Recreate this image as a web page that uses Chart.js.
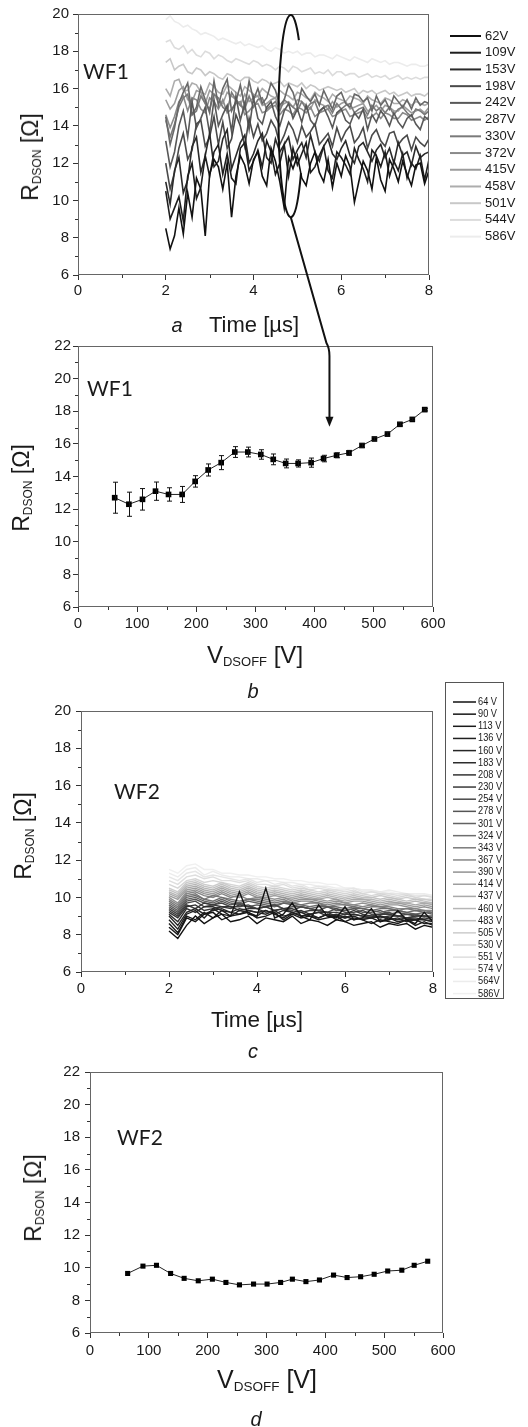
<!DOCTYPE html>
<html>
<head>
<meta charset="utf-8">
<script src="https://cdn.jsdelivr.net/npm/chart.js@4.4.1/dist/chart.umd.min.js"></script>
<style>
  body { margin: 0; background: #fff; }
  #page { position: relative; width: 528px; height: 1427px; overflow: hidden;
          font-family: 'Liberation Sans', Arial, sans-serif; color: #1a1a1a; }
  #page canvas { position: absolute; left: 0; }
  .t { position: absolute; white-space: nowrap; line-height: 1; transform: translate(-50%, -50%); }
  .rot { transform: translate(-50%, -50%) rotate(-90deg); }
  .big { font-size: 23px; }
  .sub { font-size: 12px; vertical-align: -3px; }
  .wf { font-family: Lato, 'Open Sans', sans-serif; font-size: 21px; }
  .let { font-size: 20px; font-style: italic; }
</style>
</head>
<body>
<div id="page">
  <canvas id="ca" width="528" height="340" style="top:0px"></canvas>
  <canvas id="cb" width="528" height="350" style="top:325px"></canvas>
  <canvas id="cc" width="528" height="385" style="top:675px"></canvas>
  <canvas id="cd" width="528" height="377" style="top:1050px"></canvas>
  <canvas id="ov" width="528" height="1427" style="top:0px"></canvas>

  <div class="t wf" style="left:106px;top:70px">WF1</div>
  <div class="t big rot" style="left:31px;top:157px">R<span class="sub">DSON</span> [Ω]</div>
  <div class="t let" style="left:177px;top:325px">a</div>
  <div class="t" style="left:254px;top:325px;font-size:22px">Time [µs]</div>

  <div class="t wf" style="left:110px;top:387px">WF1</div>
  <div class="t big rot" style="left:22px;top:488px">R<span class="sub">DSON</span> [Ω]</div>
  <div class="t" style="left:255px;top:655px;font-size:24px">V<span class="sub" style="font-size:13px">DSOFF</span> [V]</div>
  <div class="t let" style="left:253px;top:691px">b</div>

  <div class="t wf" style="left:137px;top:790px">WF2</div>
  <div class="t big rot" style="left:24px;top:836px">R<span class="sub">DSON</span> [Ω]</div>
  <div class="t" style="left:257px;top:1020px;font-size:22.5px">Time [µs]</div>
  <div class="t let" style="left:253px;top:1051px">c</div>

  <div class="t wf" style="left:140px;top:1136px">WF2</div>
  <div class="t big rot" style="left:34px;top:1198px">R<span class="sub">DSON</span> [Ω]</div>
  <div class="t" style="left:267px;top:1380px;font-size:25px">V<span class="sub" style="font-size:13.5px">DSOFF</span> [V]</div>
  <div class="t let" style="left:256px;top:1419px">d</div>
</div>
<script>
// ---- panel a : RDSON(t), WF1 ----
const TIME_A = [2,2.1,2.2,2.3,2.4,2.5,2.6,2.7,2.8,2.9,
  3,3.1,3.2,3.3,3.4,3.5,3.6,3.7,3.8,3.9,
  4,4.1,4.2,4.3,4.4,4.5,4.6,4.7,4.8,4.9,
  5,5.1,5.2,5.3,5.4,5.5,5.6,5.7,5.8,5.9,
  6,6.1,6.2,6.3,6.4,6.5,6.6,6.7,6.8,6.9,
  7,7.1,7.2,7.3,7.4,7.5,7.6,7.7,7.8,7.9,8];
const VOLT_A = ['62V','109V','153V','198V','242V','287V','330V','372V','415V','458V','501V','544V','586V'];
const RA_62 = [8.5,7.4,8.1,9.6,8.2,10.4,9.1,11.2,10.6,8.1, 11.4,12.2,11.8,10.6,12.0,9.1,11.3,12.4,11.9,10.9,
  12.2,12.6,11.3,10.8,12.8,12.1,11.0,9.6,12.3,11.7, 12.4,11.2,10.8,12.0,12.6,11.5,11.0,12.2,10.7,12.0,
  11.3,12.4,11.8,9.9,11.0,12.1,11.6,10.6,12.3,11.1, 10.5,12.2,11.7,11.0,12.1,11.4,10.8,11.9,12.0,10.9, 11.6];
const RA_109 = [10.5,9.0,9.6,10.2,8.9,11.3,12.0,10.1,10.7,12.4, 11.3,12.6,13.0,11.4,12.5,11.2,10.9,12.8,13.1,11.6,
  12.1,12.7,11.8,13.2,12.6,11.4,12.0,13.0,11.3,12.8, 11.9,12.5,13.1,11.5,11.8,12.4,12.9,11.6,11.2,12.6,
  12.3,11.9,11.4,12.8,12.2,11.7,11.0,12.7,12.4,11.8, 12.6,11.3,12.1,11.6,12.5,11.2,12.0,11.7,12.4,11.1, 12.2];
const RA_153 = [11.0,9.8,11.6,12.3,10.4,11.1,12.9,13.4,11.5,12.4, 13.6,11.8,12.1,13.3,13.8,11.7,12.4,13.1,13.5,12.0,
  12.5,13.2,13.6,12.3,12.0,13.3,12.6,13.0,13.4,12.2, 12.7,13.1,12.3,13.5,12.6,12.1,12.9,13.3,12.5,12.2,
  12.8,13.2,12.4,12.0,12.9,13.1,12.6,12.1,12.7,13.0, 12.3,12.8,12.0,13.1,12.4,12.6,11.9,12.9,12.3,12.5, 12.6];
const RA_198 = [12.0,10.6,11.5,12.8,13.6,12.2,12.7,14.1,14.3,12.9, 13.4,14.5,13.0,14.2,12.8,13.3,14.6,14.0,12.9,14.4,
  13.4,14.1,13.2,13.6,14.3,13.9,13.0,13.5,14.2,13.8, 13.1,14.0,13.4,13.7,14.1,13.0,13.3,13.6,12.9,13.9,
  13.2,13.7,14.0,13.1,13.4,13.9,12.8,13.5,13.8,13.2, 12.9,13.6,13.7,13.0,13.3,13.5,12.7,13.4,13.1,12.9, 13.3];
const RA_242 = [13.2,11.8,12.6,14.0,14.8,13.4,15.3,13.9,14.4,15.0, 13.6,15.4,14.0,14.6,15.1,13.7,15.6,14.3,15.2,13.8,
  15.5,14.4,14.1,15.0,15.3,14.5,14.0,14.8,15.2,14.4, 14.9,14.2,15.1,14.3,14.0,14.8,15.0,14.5,13.9,14.7,
  14.9,14.3,14.1,14.7,14.4,14.9,13.8,14.6,14.2,14.8, 14.5,14.0,14.7,14.2,13.9,14.4,14.6,14.1,13.8,14.5, 14.3];
const RA_287 = [14.5,13.0,13.9,15.2,15.8,16.3,14.6,15.0,16.1,15.4, 14.7,16.4,15.1,16.0,16.5,14.8,15.3,16.2,15.0,16.4,
  15.4,16.0,15.2,15.5,16.3,15.9,15.1,15.4,16.2,15.8, 15.0,16.0,15.6,15.3,15.7,15.1,15.9,15.4,14.9,15.6,
  15.8,15.2,15.0,15.7,15.6,15.3,15.5,14.8,15.6,15.1, 15.4,14.9,15.6,15.3,15.0,15.4,14.9,15.5,15.1,15.3, 15.2];
const RA_330 = [14.3,13.4,14.1,15.0,15.5,15.7,14.6,14.8,15.6,15.2, 14.9,15.7,15.5,15.0,14.8,15.8,15.4,15.1,14.9,15.6,
  15.0,15.4,15.5,14.9,15.1,15.3,14.8,15.4,15.2,15.0, 14.8,15.3,14.9,15.2,15.3,14.7,15.0,15.1,14.7,15.2,
  14.9,15.1,15.2,14.7,14.9,15.0,14.6,15.1,14.8,15.0, 14.7,15.0,14.6,14.9,15.0,14.7,14.5,14.9,14.8,14.6, 14.8];
const RA_372 = [14.6,13.9,14.5,15.3,15.6,14.8,15.5,15.4,14.9,14.7, 15.5,15.3,14.9,15.4,14.7,14.9,15.2,15.3,14.6,14.8,
  15.1,15.2,14.7,14.8,15.0,15.1,14.6,14.9,14.8,14.6, 15.0,14.9,14.7,15.0,14.5,14.7,14.8,14.9,14.5,14.6,
  14.8,14.9,14.5,14.6,14.7,14.8,14.4,14.5,14.7,14.4, 14.7,14.6,14.4,14.4,14.7,14.6,14.3,14.4,14.5,14.3, 14.5];
const RA_415 = [15.4,14.9,15.2,15.9,16.1,15.4,15.3,15.9,15.8,15.2, 15.9,15.7,15.3,15.2,15.8,15.6,15.4,15.1,15.7,15.3,
  15.5,15.6,15.1,15.2,15.4,15.5,15.0,15.2,15.3,15.0, 15.4,15.3,15.1,14.9,15.4,15.2,15.1,14.9,15.3,15.0,
  15.2,15.3,14.9,15.0,15.1,15.2,14.8,14.9,15.1,14.8, 15.1,15.0,14.8,14.8,15.1,14.9,14.7,14.8,14.9,14.7, 15.0];
const RA_458 = [16.0,15.6,16.4,16.5,15.9,15.9,16.3,16.2,15.8,15.7, 16.3,16.1,15.8,15.7,16.2,16.0,15.8,15.6,16.1,15.9,
  15.7,15.6,16.0,15.8,15.6,15.5,15.9,15.7,15.6,15.4, 15.8,15.7,15.5,15.4,15.8,15.6,15.5,15.3,15.7,15.5,
  15.4,15.3,15.6,15.5,15.4,15.2,15.6,15.4,15.3,15.2, 15.5,15.4,15.2,15.2,15.4,15.3,15.1,15.3,15.2,15.1, 15.2];
const RA_501 = [17.4,17.6,17.0,17.2,17.3,16.9,16.8,17.1,17.0,16.7, 16.9,16.8,16.6,16.5,16.8,16.7,16.5,16.4,16.6,16.6,
  16.4,16.3,16.5,16.4,16.2,16.3,16.4,16.1,16.3,16.2, 16.1,16.3,16.0,16.2,16.1,15.9,16.0,16.1,16.0,15.9,
  16.0,15.8,15.9,16.0,15.7,15.9,15.8,15.9,15.7,15.8, 15.9,15.7,15.8,15.6,15.7,15.8,15.6,15.7,15.7,15.6, 15.8];
const RA_544 = [18.5,18.6,18.2,18.1,18.3,17.9,18.1,17.8,17.7,18.0, 17.9,17.6,17.8,17.7,17.5,17.4,17.6,17.5,17.4,17.3,
  17.5,17.4,17.2,17.3,17.2,17.0,17.2,17.1,16.9,17.2, 17.1,16.9,17.0,17.1,16.8,16.9,16.8,17.0,16.7,16.9,
  16.9,16.7,16.8,16.8,16.6,16.7,16.8,16.6,16.7,16.6, 16.7,16.5,16.6,16.7,16.5,16.6,16.5,16.6,16.5,16.6, 16.6];
const RA_586 = [19.7,19.9,19.6,19.5,19.3,19.4,19.2,19.1,18.9,19.0, 18.9,18.8,18.6,18.7,18.6,18.5,18.4,18.5,18.3,18.4,
  18.3,18.2,18.3,18.1,18.0,18.2,18.1,17.9,18.0,17.9, 18.0,17.8,17.9,17.9,17.7,17.8,17.8,17.7,17.6,17.8,
  17.7,17.6,17.5,17.7,17.6,17.5,17.4,17.6,17.5,17.4, 17.5,17.3,17.4,17.4,17.3,17.2,17.3,17.3,17.2,17.2, 17.3];
const SERIES_A = [RA_62, RA_109, RA_153, RA_198, RA_242, RA_287, RA_330, RA_372, RA_415, RA_458, RA_501, RA_544, RA_586];
const GREY_A = ['#111','#1e1e1e','#2a2a2a','#4a4a4a','#585858','#686868','#7a7a7a','#8a8a8a','#9c9c9c','#adadad','#c8c8c8','#dcdcdc','#ececec'];

// ---- panel b : RDSON vs VDSOFF, WF1 ----
const VDS_B = [62,86,109,131,153,176,198,220,242,265,287,309,330,351,372,394,415,437,458,480,501,523,544,565,586];
const RDS_B = [12.7,12.3,12.6,13.1,12.9,12.9,13.7,14.4,14.85,15.5,15.5,15.35,15.05,14.8,14.8,14.85,15.1,15.3,15.45,15.9,16.3,16.6,17.2,17.5,18.1];
const ERR_B = [0.95,0.74,0.66,0.56,0.41,0.49,0.35,0.37,0.43,0.33,0.3,0.29,0.33,0.27,0.22,0.28,0.2,0.15,0.15,0.12,0.1,0.12,0.1,0.08,0.08];

// ---- panel c : RDSON(t), WF2 ----
const TIME_C = [2,2.2,2.4,2.6,2.8,3,3.2,3.4,3.6,3.8,4,4.2,4.4,4.6,4.8,5,5.2,5.4,5.6,5.8,6,6.2,6.4,6.6,6.8,7,7.2,7.4,7.6,7.8,8];
const VOLT_C = ['64 V','90 V','113 V','136 V','160 V','183 V','208 V','230 V','254 V','278 V','301 V','324 V','343 V',
  '367 V','390 V','414 V','437 V','460 V','483 V','505 V','530 V','551 V','574 V','564V','586V'];
const RC_64  = [8.2,7.8,8.5,9.0,8.6,8.9,9.1,8.7,8.8,9.0, 8.6,8.9,8.8,8.7,9.0,8.6,8.8,8.7,8.5,8.8, 8.7,8.5,8.6,8.7,8.4,8.6,8.5,8.6,8.3,8.5, 8.4];
const RC_90  = [8.4,8.0,8.9,8.7,9.1,9.2,8.8,9.0,10.3,9.1, 9.0,10.5,8.9,9.1,9.7,9.0,8.8,9.6,9.0,8.9, 9.5,8.8,8.9,9.4,8.7,8.8,9.3,8.8,8.6,9.2, 8.7];
const RC_113 = [8.6,8.1,9.0,8.8,9.2,8.9,9.3,9.0,9.1,9.2, 8.9,9.0,9.2,8.8,9.1,8.9,9.0,8.8,8.9,9.0, 8.7,8.9,8.8,8.6,8.8,8.7,8.6,8.8,8.5,8.7, 8.5];
const RC_136 = [8.8,8.3,9.1,9.3,8.9,9.4,9.1,9.0,9.3,9.2, 9.0,9.3,9.1,8.9,9.2,9.0,9.1,8.9,9.1,8.8, 9.0,8.8,8.9,8.9,8.7,8.9,8.7,8.8,8.8,8.6, 8.6];
const RC_160 = [9.0,8.5,9.2,9.4,9.1,9.3,9.4,9.2,9.1,9.3, 9.2,9.1,9.3,9.0,9.1,9.2,9.0,8.9,9.1,9.0, 8.9,9.0,8.8,8.9,9.0,8.8,8.9,8.7,8.8,8.8, 8.7];
const RC_183 = [9.1,8.7,9.4,9.2,9.5,9.5,9.3,9.2,9.4,9.3, 9.2,9.3,9.1,9.3,9.2,9.0,9.1,9.2,9.0,9.1, 8.9,9.1,9.0,8.9,9.0,8.9,8.8,8.9,8.9,8.8, 8.7];
const RC_208 = [9.2,8.9,9.5,9.6,9.3,9.4,9.5,9.5,9.3,9.4, 9.4,9.2,9.3,9.4,9.2,9.3,9.1,9.2,9.2,9.0, 9.1,9.1,9.0,9.0,8.9,9.0,9.0,8.9,8.8,8.9, 8.8];
const RC_230 = [9.3,9.0,9.6,9.4,9.7,9.6,9.5,9.4,9.6,9.5, 9.4,9.5,9.3,9.4,9.4,9.2,9.3,9.3,9.2,9.2, 9.1,9.3,9.1,9.0,9.1,9.1,9.0,8.9,9.0,9.0, 8.9];
const RC_254 = [9.4,9.1,9.7,9.8,9.5,9.6,9.7,9.5,9.5,9.6, 9.4,9.5,9.6,9.4,9.3,9.5,9.4,9.3,9.2,9.4, 9.2,9.2,9.3,9.1,9.1,9.2,9.0,9.1,9.0,9.0, 8.9];
const RC_278 = [9.5,9.2,9.8,9.9,9.7,9.6,9.8,9.6,9.7,9.5, 9.6,9.5,9.6,9.4,9.5,9.5,9.4,9.3,9.5,9.3, 9.3,9.4,9.2,9.2,9.3,9.1,9.2,9.1,9.1,9.0, 9.0];
const RC_301 = [9.6,9.3,9.9,10.0,9.8,9.7,9.9,9.7,9.6,9.8, 9.7,9.6,9.5,9.7,9.6,9.5,9.4,9.5,9.5,9.4, 9.3,9.4,9.4,9.3,9.2,9.3,9.3,9.2,9.1,9.2, 9.1];
const RC_324 = [9.7,9.4,10.0,10.1,9.9,9.8,10.0,9.8,9.7,9.9, 9.8,9.7,9.6,9.7,9.7,9.6,9.5,9.6,9.5,9.5, 9.4,9.5,9.4,9.3,9.4,9.4,9.3,9.2,9.3,9.2, 9.2];
const RC_343 = [9.8,9.5,10.1,10.2,9.9,10.1,10.0,9.9,9.8,9.9, 9.9,9.8,9.7,9.8,9.7,9.6,9.7,9.7,9.5,9.6, 9.6,9.5,9.4,9.5,9.5,9.4,9.3,9.4,9.3,9.3, 9.2];
const RC_367 = [9.9,9.6,10.2,10.3,10.1,10.0,10.2,10.0,10.1,9.9, 10.0,9.9,9.8,9.9,9.7,9.8,9.8,9.7,9.6,9.7, 9.6,9.6,9.5,9.6,9.5,9.5,9.4,9.4,9.4,9.3, 9.3];
const RC_390 = [10.0,9.7,10.3,10.4,10.2,10.1,10.3,10.1,10.0,10.2, 10.0,10.0,9.9,10.0,9.8,9.9,9.9,9.8,9.7,9.8, 9.7,9.6,9.7,9.6,9.5,9.6,9.6,9.5,9.4,9.5, 9.4];
const RC_414 = [10.1,9.9,10.4,10.5,10.3,10.2,10.4,10.2,10.1,10.3, 10.1,10.0,10.1,10.0,9.9,10.0,9.9,9.9,9.8,9.9, 9.7,9.8,9.8,9.7,9.6,9.7,9.7,9.6,9.5,9.6, 9.5];
const RC_437 = [10.2,10.0,10.5,10.6,10.4,10.3,10.5,10.3,10.2,10.4, 10.2,10.1,10.2,10.1,10.0,10.1,10.0,9.9,10.0,9.9, 9.8,9.9,9.9,9.8,9.7,9.8,9.7,9.7,9.6,9.7, 9.6];
const RC_460 = [10.3,10.1,10.6,10.7,10.5,10.4,10.6,10.4,10.3,10.5, 10.3,10.2,10.3,10.2,10.1,10.2,10.1,10.0,10.1,10.0, 9.9,10.0,9.9,9.9,9.8,9.9,9.8,9.7,9.8,9.7, 9.7];
const RC_483 = [10.4,10.2,10.7,10.8,10.6,10.5,10.7,10.5,10.4,10.6, 10.4,10.3,10.4,10.3,10.2,10.3,10.2,10.1,10.2,10.1, 10.0,10.1,10.0,10.0,9.9,10.0,9.9,9.8,9.9,9.8, 9.7];
const RC_505 = [10.5,10.3,10.8,10.9,10.7,10.6,10.8,10.6,10.5,10.7, 10.5,10.4,10.5,10.4,10.3,10.4,10.3,10.2,10.3,10.2, 10.1,10.2,10.1,10.0,10.1,10.0,9.9,10.0,9.9,9.9, 9.8];
const RC_530 = [10.7,10.5,10.9,11.0,10.8,10.9,10.8,10.7,10.6,10.8, 10.6,10.5,10.6,10.5,10.4,10.5,10.4,10.3,10.4,10.3, 10.2,10.3,10.2,10.1,10.2,10.1,10.0,10.1,10.0,9.9, 9.9];
const RC_551 = [10.9,10.7,11.1,11.2,11.0,11.1,10.9,10.9,10.8,10.9, 10.7,10.7,10.6,10.7,10.5,10.6,10.4,10.5,10.4,10.4, 10.3,10.4,10.2,10.3,10.2,10.2,10.1,10.2,10.0,10.1, 10.0];
const RC_574 = [11.1,10.9,11.3,11.4,11.1,11.2,11.1,11.0,10.9,11.0, 10.8,10.9,10.7,10.8,10.6,10.7,10.5,10.6,10.5,10.4, 10.4,10.5,10.3,10.3,10.3,10.2,10.2,10.2,10.1,10.1, 10.0];
const RC_564 = [11.3,11.1,11.5,11.6,11.2,11.4,11.2,11.1,11.1,11.0, 11.0,10.9,10.9,10.8,10.8,10.7,10.7,10.6,10.6,10.5, 10.5,10.5,10.4,10.4,10.3,10.4,10.3,10.2,10.2,10.2, 10.1];
const RC_586 = [11.5,11.3,11.7,11.8,11.5,11.5,11.3,11.3,11.2,11.2, 11.1,11.1,11.0,11.0,10.9,10.9,10.8,10.8,10.7,10.7, 10.5,10.5,10.4,10.4,10.3,10.3,10.2,10.2,10.1,10.1, 10.1];
const SERIES_C = [RC_64, RC_90, RC_113, RC_136, RC_160, RC_183, RC_208, RC_230, RC_254, RC_278, RC_301, RC_324, RC_343,
  RC_367, RC_390, RC_414, RC_437, RC_460, RC_483, RC_505, RC_530, RC_551, RC_574, RC_564, RC_586];
const GREY_C = ['#111','#151515','#1a1a1a','#202020','#262626','#2c2c2c','#333','#3a3a3a','#484848','#555','#626262','#6e6e6e','#7a7a7a',
  '#868686','#929292','#9e9e9e','#aaaaaa','#b6b6b6','#c2c2c2','#cccccc','#d6d6d6','#dedede','#e6e6e6','#ececec','#f0f0f0'];

// ---- panel d : RDSON vs VDSOFF, WF2 ----
const VDS_D = [64,90,113,137,160,184,208,231,254,278,301,324,344,367,390,414,437,460,483,506,530,551,574];
const RDS_D = [9.65,10.1,10.15,9.65,9.35,9.2,9.3,9.1,8.95,9.0,9.0,9.1,9.3,9.15,9.25,9.55,9.4,9.45,9.6,9.8,9.85,10.15,10.4];

Chart.defaults.font.family = "'Liberation Sans', Arial, sans-serif";
Chart.defaults.color = '#1a1a1a';

// frame box, minor ticks and error bars
const framePlugin = {
  id: 'frame',
  afterDatasetsDraw(chart, args, o) {
    if (!o.err) return;
    const { ctx, scales: { x, y } } = chart;
    ctx.save();
    ctx.strokeStyle = '#111';
    ctx.lineWidth = 1;
    chart.data.datasets[0].data.forEach((p, i) => {
      const px = Math.round(x.getPixelForValue(p.x)) + 0.5;
      const y1 = y.getPixelForValue(p.y + o.err[i]);
      const y2 = y.getPixelForValue(p.y - o.err[i]);
      ctx.beginPath();
      ctx.moveTo(px, y1); ctx.lineTo(px, y2);
      ctx.moveTo(px - 2.5, y1); ctx.lineTo(px + 2.5, y1);
      ctx.moveTo(px - 2.5, y2); ctx.lineTo(px + 2.5, y2);
      ctx.stroke();
    });
    ctx.restore();
  },
  afterDraw(chart, args, o) {
    const { ctx, chartArea: a, scales: { x, y } } = chart;
    ctx.save();
    ctx.lineWidth = 1;
    ctx.strokeStyle = '#333';
    ctx.beginPath();
    x.ticks.forEach(t => {
      const v = t.value + o.xMinor;
      if (v >= x.max) return;
      const px = Math.round(x.getPixelForValue(v)) + 0.5;
      ctx.moveTo(px, a.bottom); ctx.lineTo(px, a.bottom + 3);
    });
    y.ticks.forEach(t => {
      const v = t.value + o.yMinor;
      if (v >= y.max) return;
      const py = Math.round(y.getPixelForValue(v)) + 0.5;
      ctx.moveTo(a.left, py); ctx.lineTo(a.left - 3, py);
    });
    ctx.stroke();
    ctx.strokeStyle = '#666';
    ctx.strokeRect(Math.round(a.left) + 0.5, Math.round(a.top) + 0.5, Math.round(a.right - a.left) - 1, Math.round(a.bottom - a.top) - 1);
    ctx.restore();
  }
};

// legend drawn from the datasets' own labels and colours
const keyPlugin = {
  id: 'key',
  afterDraw(chart, args, o) {
    if (!o.x) return;
    const ctx = chart.ctx;
    ctx.save();
    if (o.box) {
      ctx.strokeStyle = '#555';
      ctx.lineWidth = 1;
      ctx.strokeRect(o.box[0] + 0.5, o.box[1] + 0.5, o.box[2], o.box[3]);
    }
    ctx.font = o.font;
    ctx.textBaseline = 'middle';
    chart.data.datasets.forEach((ds, i) => {
      const yy = o.y + i * o.dy;
      ctx.strokeStyle = ds.borderColor;
      ctx.lineWidth = o.lw;
      ctx.beginPath(); ctx.moveTo(o.x, yy); ctx.lineTo(o.x + o.len, yy); ctx.stroke();
      ctx.fillStyle = '#1a1a1a';
      ctx.save();
      ctx.translate(o.x + o.len + o.gap, yy);
      ctx.scale(o.squeeze || 1, 1);
      ctx.fillText(ds.label, 0, 0);
      ctx.restore();
    });
    ctx.restore();
  }
};

const YW = 40, XH = 30;
function makeChart(id, pageTop, area, xs, ys, datasets, frame, key) {
  const cv = document.getElementById(id);
  return new Chart(cv, {
    type: 'line',
    data: { datasets },
    options: {
      responsive: false,
      animation: false,
      events: [],
      layout: { padding: { left: area.l - YW, right: cv.width - area.r, top: area.t - pageTop, bottom: cv.height - (area.b - pageTop) - XH } },
      plugins: { legend: { display: false }, tooltip: { enabled: false }, frame, key: key || {} },
      scales: {
        x: {
          type: 'linear', min: xs.min, max: xs.max,
          afterFit: s => { s.height = XH; },
          border: { display: false },
          grid: { drawOnChartArea: false, drawTicks: true, tickLength: 5, tickColor: '#333' },
          ticks: { stepSize: xs.step, padding: xs.pad, maxRotation: 0, autoSkip: false, font: { size: 15 } }
        },
        y: {
          type: 'linear', min: ys.min, max: ys.max,
          afterFit: s => { s.width = YW; },
          border: { display: false },
          grid: { drawOnChartArea: false, drawTicks: true, tickLength: 5, tickColor: '#333' },
          ticks: { stepSize: ys.step, padding: ys.pad, autoSkip: false, font: { size: 15 } }
        }
      }
    },
    plugins: [framePlugin, keyPlugin]
  });
}

const traces = (times, series, labels, greys, width) => series.map((vals, k) => ({
  label: labels[k],
  data: times.map((t, i) => ({ x: t, y: vals[i] })),
  borderColor: greys[k], borderWidth: width, pointRadius: 0, tension: 0, fill: false
}));
const squares = (xs, ys, r) => [{
  data: xs.map((v, i) => ({ x: v, y: ys[i] })),
  borderColor: '#222', borderWidth: 1, tension: 0,
  pointStyle: 'rect', pointRadius: r, pointBackgroundColor: '#000', pointBorderColor: '#000', pointBorderWidth: 0
}];

const TOP_A = 0, TOP_B = 325, TOP_C = 675, TOP_D = 1050;
const chartA = makeChart('ca', TOP_A, { l: 78, r: 429, t: 14, b: 275 },
  { min: 0, max: 8, step: 2, pad: 2 }, { min: 6, max: 20, step: 2, pad: 4 },
  traces(TIME_A, SERIES_A, VOLT_A, GREY_A, 1.6), { xMinor: 1, yMinor: 1 },
  { x: 450, y: 36, dy: 16.72, len: 31, gap: 4, lw: 2, font: "13px 'Liberation Sans', Arial" });
const chartB = makeChart('cb', TOP_B, { l: 78, r: 433, t: 346, b: 607 },
  { min: 0, max: 600, step: 100, pad: 3 }, { min: 6, max: 22, step: 2, pad: 2 },
  squares(VDS_B, RDS_B, 4), { xMinor: 50, yMinor: 1, err: ERR_B });
const chartC = makeChart('cc', TOP_C, { l: 81, r: 433, t: 711, b: 972 },
  { min: 0, max: 8, step: 2, pad: 3 }, { min: 6, max: 20, step: 2, pad: 5 },
  traces(TIME_C, SERIES_C, VOLT_C, GREY_C, 1.4), { xMinor: 1, yMinor: 1 },
  { x: 453, y: 27, dy: 12.15, len: 23, gap: 2, lw: 1.5, squeeze: 0.84, font: "11px 'Liberation Sans', Arial", box: [445, 7, 58, 316] });
const chartD = makeChart('cd', TOP_D, { l: 90, r: 443, t: 1072, b: 1333 },
  { min: 0, max: 600, step: 100, pad: 4 }, { min: 6, max: 22, step: 2, pad: 5 },
  squares(VDS_D, RDS_D, 3.6), { xMinor: 50, yMinor: 1 });

// ellipse around the 4.85 us slice and arrow down to panel b
(function drawPointer() {
  const ctx = document.getElementById('ov').getContext('2d');
  const ax = chartA.scales.x, ay = chartA.scales.y, bx = chartB.scales.x, by = chartB.scales.y;
  const cx = ax.getPixelForValue(4.85);
  const top = ay.getPixelForValue(19.95) + TOP_A, bot = ay.getPixelForValue(9.1) + TOP_A;
  const rx = ax.getPixelForValue(5.13) - cx, ry = (bot - top) / 2;
  ctx.strokeStyle = '#111';
  ctx.fillStyle = '#111';
  ctx.lineWidth = 2;
  ctx.beginPath();
  ctx.ellipse(cx, top + ry, rx, ry, 0, -0.85, 0.6, true);
  ctx.stroke();
  const tipX = bx.getPixelForValue(425), tipY = by.getPixelForValue(17.05) + TOP_B;
  const bendY = by.getPixelForValue(22) + TOP_B;
  ctx.beginPath();
  ctx.moveTo(cx, bot);
  ctx.lineTo(tipX - 3, bendY - 3);
  ctx.quadraticCurveTo(tipX, bendY + 2, tipX, bendY + 10);
  ctx.lineTo(tipX, tipY - 8);
  ctx.stroke();
  ctx.beginPath();
  ctx.moveTo(tipX, tipY);
  ctx.lineTo(tipX - 4, tipY - 10);
  ctx.lineTo(tipX + 4, tipY - 10);
  ctx.closePath();
  ctx.fill();
})();
</script>
</body>
</html>
